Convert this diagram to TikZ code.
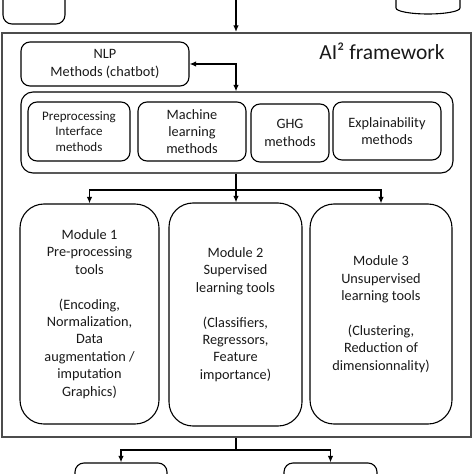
\documentclass[tikz,border=0pt]{standalone}
\usepackage{fontspec}
\setmainfont{Carlito}
\usetikzlibrary{arrows.meta}
\tikzset{
  base/.style={draw=black, line width=1.1bp, align=center, text=black!90, inner sep=0pt,
    font=\fontsize{14.3bp}{17.4bp}\selectfont},
  rbox/.style={base, rounded corners=9bp},
  modbox/.style={base, rounded corners=24bp},
  frame/.style={draw=black!70, line width=2bp, inner sep=0pt},
  conn/.style={line width=1.4bp, black},
  arr/.style={conn, -{Latex[length=6.5bp,width=5.5bp]}},
  darr/.style={conn, {Latex[length=6.5bp,width=5.5bp]}-{Latex[length=6.5bp,width=5.5bp]}},
}
\begin{document}
\begin{tikzpicture}[x=1bp,y=-1bp]
\useasboundingbox (0,0) rectangle (474,474);
\clip (0,0) rectangle (474,474);
% partially visible elements above
\node[rbox, minimum width=62bp, minimum height=60bp] (topl) at (34,-6) {};
\draw[line width=1.1bp] (396,-20) -- (396,8) arc[start angle=180, end angle=0, x radius=32, y radius=6] -- (460,-20);
\coordinate (topin) at (236,-5);
% frame
\node[frame, minimum width=469bp, minimum height=404bp] (frm) at (236.5,235) {};
\node[font=\fontsize{21.5bp}{26bp}\selectfont, text=black!90, inner sep=0pt] (title) at (382,51) {AI² framework};
% NLP
\node[rbox, minimum width=168bp, minimum height=44bp] (nlp) at (105,64) {NLP\\Methods (chatbot)};
% container
\node[rbox, rounded corners=12bp, minimum width=432bp, minimum height=81bp] (cont) at (237,132.5) {};
\node[rbox, minimum width=102bp, minimum height=59bp, font=\fontsize{13bp}{15.3bp}\selectfont] (pre) at (79,131.5) {Preprocessing\\Interface\\methods};
\node[rbox, minimum width=108bp, minimum height=59bp] (ml) at (192,131.5) {Machine\\learning\\methods};
\node[rbox, minimum width=78bp, minimum height=58bp] (ghg) at (290,133) {GHG\\methods};
\node[rbox, minimum width=108bp, minimum height=58bp] (expl) at (387,131) {Explainability\\methods};
% modules
\node[modbox, minimum width=139bp, minimum height=220bp] (m1) at (89.5,314)
  {Module 1\\Pre-processing\\tools\\[\baselineskip](Encoding,\\Normalization,\\Data\\augmentation /\\imputation\\Graphics)};
\node[modbox, minimum width=133bp, minimum height=223bp] (m2) at (235.5,314.5)
  {Module 2\\Supervised\\learning tools\\[\baselineskip](Classifiers,\\Regressors,\\Feature\\importance)};
\node[modbox, minimum width=142bp, minimum height=220bp] (m3) at (381,314)
  {Module 3\\Unsupervised\\learning tools\\[\baselineskip](Clustering,\\Reduction of\\dimensionnality)};
% bottom boxes
\node[rbox, minimum width=92bp, minimum height=54bp] (b1) at (121,490) {};
\node[rbox, minimum width=93bp, minimum height=54bp] (b2) at (330.5,490) {};
% connectors
\coordinate (cx) at (236,0);
\draw[arr] (topin) -- (cx |- frm.north);
\draw[darr] (nlp.east) -| (cx |- cont.north);
\coordinate (split) at (236,190);
\draw[conn] (cx |- cont.south) -- (split);
\draw[arr] (split) -| (m1.north);
\draw[arr] (split) -- (split |- m2.north);
\draw[arr] (split) -| (m3.north);
\coordinate (split2) at (236,450);
\draw[conn] (cx |- frm.south) -- (split2);
\draw[arr] (split2) -| (b1.north);
\draw[arr] (split2) -| (b2.north);
\end{tikzpicture}
\end{document}
